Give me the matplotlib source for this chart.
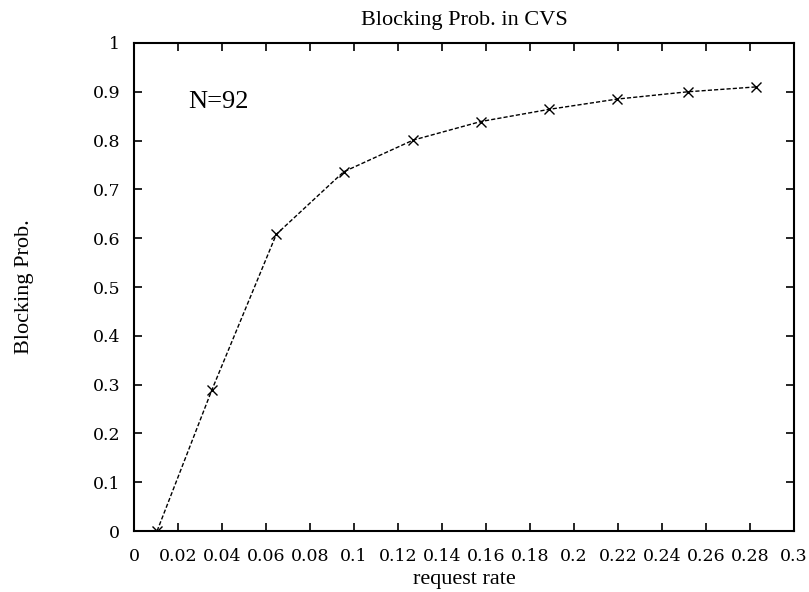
import numpy as np
import matplotlib as mpl
mpl.use('Agg')
import matplotlib.pyplot as plt
from matplotlib.ticker import FormatStrFormatter, MultipleLocator

# request rate vs blocking probability
rate = [0.0105, 0.0354, 0.0647, 0.0953, 0.1269, 0.1576, 0.1887, 0.2195, 0.2517, 0.2828]
block = [0.0, 0.289, 0.608, 0.736, 0.801, 0.839, 0.864, 0.885, 0.900, 0.910]

plt.rcParams['font.family'] = ['Liberation Serif', 'DejaVu Serif']

fig = plt.figure(figsize=(8.09, 5.92), dpi=100)
ax = fig.add_axes([0.1656, 0.1030, 0.8159, 0.8244])

ax.plot(rate, block, color='black', linestyle=(0, (3, 1.5)), linewidth=1.0,
        marker='x', markersize=7, markeredgewidth=1.0)

ax.set_xlim(0, 0.3)
ax.set_ylim(0, 1)
ax.xaxis.set_major_locator(MultipleLocator(0.02))
ax.yaxis.set_major_locator(MultipleLocator(0.1))
ax.xaxis.set_major_formatter(FormatStrFormatter('%g'))
ax.yaxis.set_major_formatter(FormatStrFormatter('%g'))
ax.tick_params(direction='in', length=6, width=1.2, labelsize=12.5,
               top=True, right=True)
ax.tick_params(axis='x', pad=12)
ax.tick_params(axis='y', pad=10)
for lab in ax.get_xticklabels() + ax.get_yticklabels():
    lab.set_family('DejaVu Serif')
for s in ax.spines.values():
    s.set_linewidth(1.5)

ax.set_title('Blocking Prob. in CVS', fontsize=16, pad=13)
ax.set_xlabel('request rate', fontsize=16)
ax.xaxis.set_label_coords(0.5, -0.080)
ax.set_ylabel('Blocking Prob.', fontsize=16)
ax.yaxis.set_label_coords(-0.151, 0.5)
ax.text(0.082, 0.88, 'N=92', transform=ax.transAxes, fontsize=19,
        va='center', ha='left')

fig.savefig('out.png', dpi=100)
